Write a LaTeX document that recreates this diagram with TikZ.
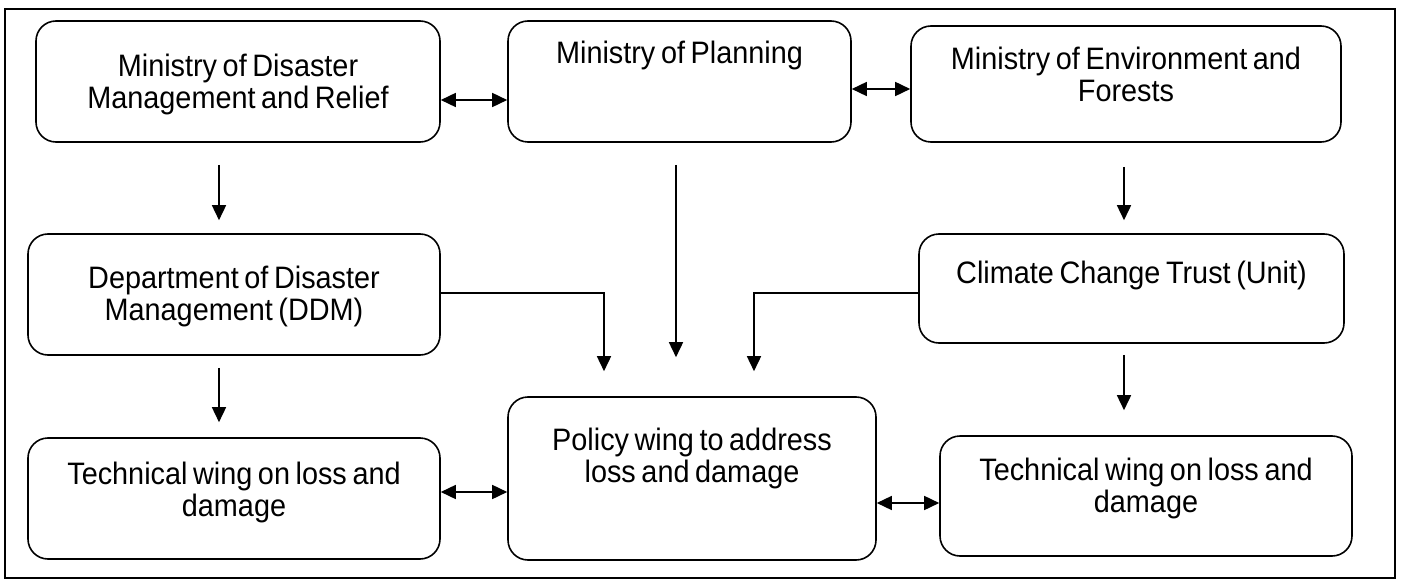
\documentclass[tikz,border=0pt]{standalone}
\usepackage{fontspec}
\setmainfont{Liberation Sans}[FakeStretch=0.93,WordSpace=0.7]
\usetikzlibrary{positioning,arrows.meta}

\begin{document}
\begin{tikzpicture}
[x=1pt,y=-1pt,>={Triangle[length=15pt,width=14pt]},
 org/.style={draw,line width=1.6pt,rounded corners=20pt,inner sep=0pt},
 orgtext/.style={inner sep=0pt,align=center,font=\fontsize{31}{32}\selectfont},
 link/.style={->,line width=1.6pt},
 twoway/.style={<->,line width=1.6pt}]

\useasboundingbox (0,0) rectangle (1402,580);
\draw [line width=1.2pt] (5,9) rectangle (1395,578);

% top row
\node [org,minimum width=404pt,minimum height=121pt] (mdmr) at (238,81.5) {};
\node [org,minimum width=343pt,minimum height=121pt] (plan) at (679.5,81.5) {};
\node [org,minimum width=430pt,minimum height=116pt] (mef) at (1126,84) {};
% middle row
\node [org,minimum width=412pt,minimum height=121pt] (ddm) at (234,294.5) {};
\node [org,minimum width=425pt,minimum height=109pt] (cct) at (1131.5,288.5) {};
% bottom row
\node [org,minimum width=412pt,minimum height=121pt] (twl) at (234,498.5) {};
\node [org,minimum width=368pt,minimum height=163pt] (policy) at (692,478.5) {};
\node [org,minimum width=412pt,minimum height=120pt] (twr) at (1146,496) {};

\node [orgtext,below=34pt of mdmr.north] (mdmr-t) {Ministry of Disaster\\Management and Relief};
\node [orgtext,below=21pt of plan.north] (plan-t) {Ministry of Planning};
\node [orgtext,below=22pt of mef.north] (mef-t) {Ministry of Environment and\\Forests};
\node [orgtext,below=33pt of ddm.north] (ddm-t) {Department of Disaster\\Management (DDM)};
\node [orgtext,below=28pt of cct.north] (cct-t) {Climate Change Trust (Unit)};
\node [orgtext,below=25pt of twl.north] (twl-t) {Technical wing on loss and\\damage};
\node [orgtext,below=32pt of policy.north] (policy-t) {Policy wing to address\\loss and damage};
\node [orgtext,below=23pt of twr.north] (twr-t) {Technical wing on loss and\\damage};

% two-way links
\draw [twoway] ([yshift=-18.5pt]mdmr.east) -- ([yshift=-18.5pt]mdmr.east -| plan.west);
\draw [twoway] ([yshift=-7.5pt]plan.east) -- ([yshift=-7.5pt]plan.east -| mef.west);
\draw [twoway] ([yshift=6.5pt]twl.east) -- ([yshift=6.5pt]twl.east -| policy.west);
\draw [twoway] ([yshift=-24.5pt]policy.east) -- ([yshift=-24.5pt]policy.east -| twr.west);

% downward links
\draw [link,shorten <=22pt,shorten >=13pt] ([xshift=-19pt]mdmr.south) -- ([xshift=-19pt]mdmr.south |- ddm.north);
\draw [link,shorten <=12pt,shorten >=15pt] ([xshift=-15pt]ddm.south) -- ([xshift=-15pt]ddm.south |- twl.north);
\draw [link,shorten <=22pt,shorten >=39pt] ([xshift=-3.5pt]plan.south) -- ([xshift=-3.5pt]plan.south |- policy.north);
\draw [link,shorten <=24pt,shorten >=13pt] ([xshift=-2pt]mef.south) -- ([xshift=-2pt]mef.south |- cct.north);
\draw [link,shorten <=11pt,shorten >=25pt] ([xshift=-7.5pt]cct.south) -- ([xshift=-7.5pt]cct.south |- twr.north);
\draw [link,shorten >=25pt] ([yshift=1.5pt]ddm.east) -| ([xshift=-88pt]policy.north);
\draw [link,shorten >=25pt] ([yshift=-4.5pt]cct.west) -| ([xshift=62pt]policy.north);
\end{tikzpicture}
\end{document}
